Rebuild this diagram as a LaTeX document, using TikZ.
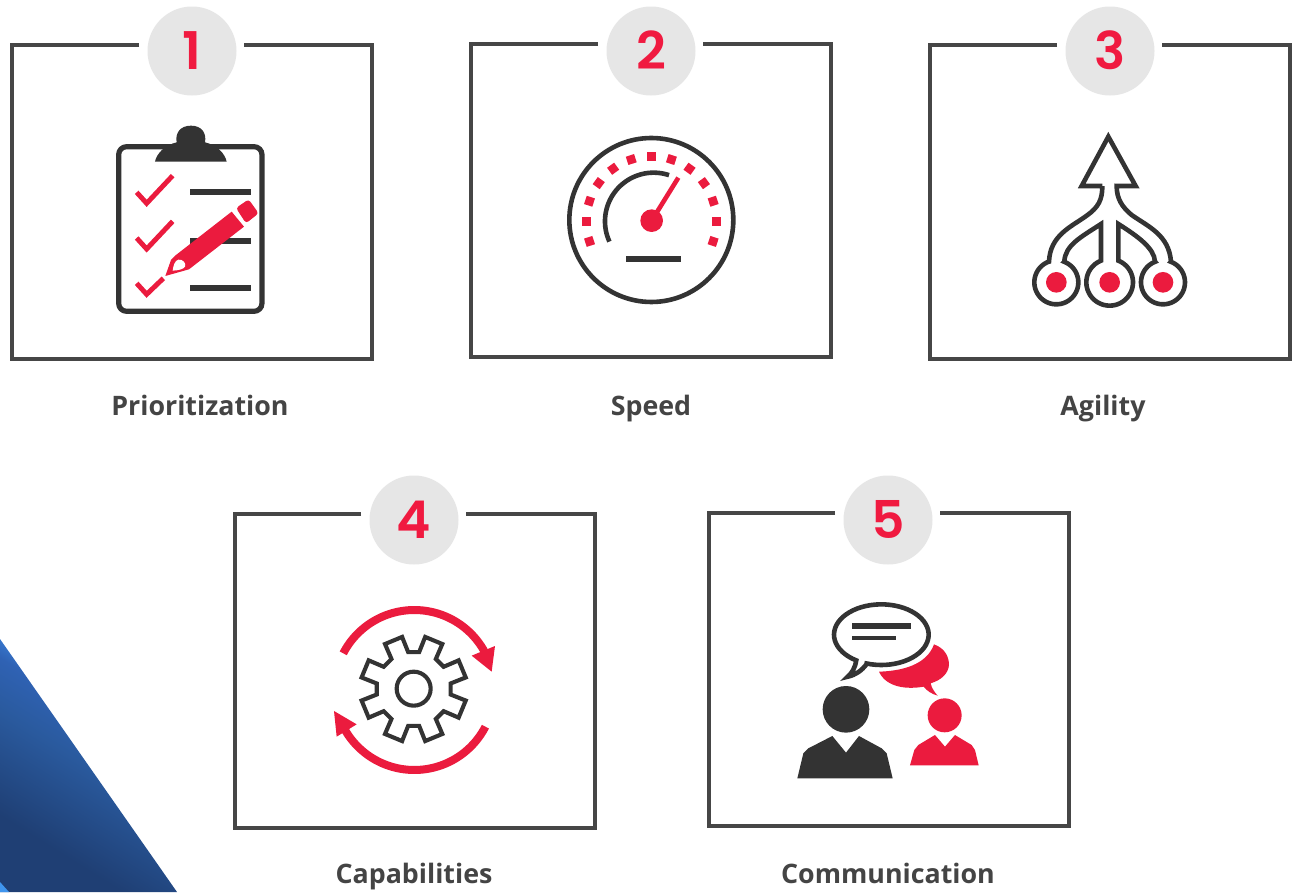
\documentclass[tikz,border=0pt]{standalone}
\usepackage{fontspec}
\setmainfont{Open Sans}
\newfontfamily\digitfont{Poppins SemiBold}
\definecolor{brandred}{HTML}{EB1B3E}
\definecolor{digitred}{HTML}{F01A40}
\definecolor{ink}{HTML}{333333}
\definecolor{framegrey}{HTML}{464646}
\definecolor{labelgrey}{HTML}{444444}
\definecolor{discgrey}{HTML}{E6E6E6}
\definecolor{bA}{HTML}{3F8FEA}
\definecolor{bB}{HTML}{2F62B4}
\definecolor{bC}{HTML}{2A5A9E}
\definecolor{bD}{HTML}{1F3F74}
\definecolor{bE}{HTML}{3F95EE}
\pgfdeclareverticalshading{blueband}{100bp}{color(0bp)=(bD); color(30bp)=(bD); color(50bp)=(bC); color(60bp)=(bB); color(68bp)=(bA); color(100bp)=(bA)}
\tikzset{
  frameline/.style={draw=framegrey,line width=4pt,line join=miter},
  disc/.style={circle,fill=discgrey,minimum size=89pt,inner sep=0pt},
  digit/.style={text=digitred,font=\digitfont\fontsize{52}{52}\selectfont,anchor=base,inner sep=0pt},
  caption/.style={text=labelgrey,font=\bfseries\fontsize{26.8}{30}\selectfont,anchor=base,inner sep=0pt},
  inkline/.style={draw=ink,line width=4.6pt},
  redline/.style={draw=brandred,line width=4.6pt},
  arcplot/.style={samples=60}
}
% panel: name, left, top, right, bottom, disc x, disc y, digit
\newcommand{\panel}[8]{%
  \coordinate (#1gl) at ({#6-53},#3);
  \coordinate (#1gr) at ({#6+52},#3);
  \draw[frameline] (#1gl) -- (#2,#3) -- (#2,#5) -- (#4,#5) -- (#4,#3) -- (#1gr);
  \node[disc] (#1disc) at (#6,#7) {};
  \node[digit] (#1num) at (#6,{#7+18}) {#8};
}
\begin{document}
\begin{tikzpicture}[x=1pt,y=-1pt]
\useasboundingbox (0,0) rectangle (1301,892);
\fill[white] (0,0) rectangle (1301,892);
% corner
\shade[shading=blueband,shading angle=-32] (0,639) -- (177,892) -- (0,892) -- cycle;
\fill[bE] (0,882) -- (9,892) -- (0,892) -- cycle;
% panels
\panel{a}{12}{45}{372}{359}{192}{51}{1}
\panel{b}{471}{44}{831}{357}{651}{51}{2}
\panel{c}{930}{45}{1290}{359}{1110}{51}{3}
\panel{d}{235}{514}{595}{828}{414}{520}{4}
\panel{e}{709}{513}{1069}{826}{888}{520}{5}
\node[caption] (al) at (200,415.5) {Prioritization};
\node[caption] (bl) at (651,415.5) {Speed};
\node[caption] (cl) at (1103,415.5) {Agility};
\node[caption] (dl) at (414,883.5) {Capabilities};
\node[caption] (el) at (888,883.5) {Communication};
% icon 1
\begin{scope}[shift={(90,110)},x=0.3333pt,y=-0.3333pt]
  \draw[ink,line width=5.2pt,rounded corners=8pt] (86,110) rectangle (516,604);
  \fill[ink] (195,155) .. controls (200,130) and (225,105) .. (260,97) .. controls (255,70) and (270,47) .. (303,47) .. controls (336,47) and (350,70) .. (345,97) .. controls (380,105) and (405,130) .. (410,155) -- cycle;
  \foreach \yy in {246,393,534} \fill[ink] (300,\yy-9) rectangle (483,\yy+9);
  \draw[redline,line width=4.9pt,line join=miter] (140,247) -- (170,280) -- (248,197);
  \draw[redline,line width=4.9pt,line join=miter] (140,384) -- (170,417) -- (248,334);
  \draw[redline,line width=4.9pt,line join=miter] (140,520) -- (170,553) -- (220,505);
  \fill[brandred] (425,305) -- (462,350) -- (297,478) -- (226,498) -- (243,450) -- (258,435) -- cycle;
  \fill[white] (248,482) .. controls (250,465) and (255,452) .. (265,449) .. controls (278,447) and (290,460) .. (285,470) .. controls (280,478) and (265,481) .. (248,482) -- cycle;
  \fill[brandred,rounded corners=3pt] (438,294) -- (476,268) -- (506,310) -- (468,340) -- cycle;
\end{scope}
% icon 2
\begin{scope}[shift={(550,120)},x=0.3333pt,y=-0.3333pt]
  \draw[inkline] (304,300) circle[radius=246];
  \foreach \a in {-18,0,18,36,54,72,90,108,126,144,162,180,198}
    \draw[draw=brandred,line width=8.7pt] ({304+182*cos(\a)},{304-182*sin(\a)}) -- ({304+208*cos(\a)},{304-208*sin(\a)});
  \draw[inkline] plot[arcplot,domain=155.4:288.4] ({311+146*cos(\x)},{304+146*sin(\x)});
  \draw[redline] (305,302) -- (385,173);
  \fill[brandred] (305,302) circle[radius=34];
  \fill[ink] (228,408) rectangle (393,426);
\end{scope}
% icon 3
\begin{scope}[shift={(1015,120)},x=0.3333pt,y=-0.3333pt]
  \draw[inkline,line join=miter] (262,198) -- (200,198) -- (280,50) -- (362,198) -- (305,198)
    .. controls (305,235) and (320,260) .. (350,285)
    .. controls (400,320) and (462,345) .. (468,425)
    -- plot[arcplot,domain=-69:249] ({444+66*cos(\x)},{487+66*sin(\x)})
    -- (420,425)
    .. controls (418,385) and (370,350) .. (310,312)
    -- (310,422)
    -- plot[arcplot,domain=-68:248] ({284+70*cos(\x)},{487+70*sin(\x)})
    -- (258,422) -- (258,312)
    .. controls (200,350) and (150,375) .. (148,425)
    -- plot[arcplot,domain=-69:249] ({124+66*cos(\x)},{487+66*sin(\x)})
    -- (102,425)
    .. controls (105,345) and (170,320) .. (215,287)
    .. controls (250,262) and (262,240) .. (262,198);
  \foreach \cx in {124,284,444} \fill[brandred] (\cx,487) circle[radius=31];
\end{scope}
% icon 4
\begin{scope}[shift={(320,590)},x=0.3333pt,y=-0.3333pt]
  \draw[inkline,line width=4.1pt,line join=miter]
    ({281+112*cos(22.5-14)},{297+112*sin(22.5-14)})
    \foreach \t in {22.5,67.5,...,337.5} {
      -- ({281+112*cos(\t-14)},{297+112*sin(\t-14)})
      -- ({281+160*cos(\t-10)},{297+160*sin(\t-10)})
      -- ({281+160*cos(\t+10)},{297+160*sin(\t+10)})
      -- ({281+112*cos(\t+14)},{297+112*sin(\t+14)})
    } -- cycle;
  \draw[inkline,line width=4.1pt] (281,296) circle[radius=51];
  \draw[redline,line width=8pt] plot[arcplot,domain=-152.7:-27] ({283+240*cos(\x)},{300+240*sin(\x)});
  \fill[brandred] (525,168) -- (515,245) -- (455,197) -- cycle;
  \draw[redline,line width=8pt] plot[arcplot,domain=27.3:153] ({283+240*cos(\x)},{300+240*sin(\x)});
  \fill[brandred] (42,363) -- (110,403) -- (50,440) -- cycle;
\end{scope}
% icon 5
\begin{scope}[shift={(785,590)},x=0.3333pt,y=-0.3333pt]
  \fill[brandred] (282,245) .. controls (350,243) and (425,225) .. (447,163)
    .. controls (480,175) and (492,200) .. (492,225)
    .. controls (490,250) and (470,270) .. (437,280)
    .. controls (440,295) and (450,308) .. (458,317)
    .. controls (440,312) and (425,302) .. (416,290)
    .. controls (370,298) and (305,295) .. (282,245) -- cycle;
  \draw[inkline,fill=white,line join=miter] plot[arcplot,domain=108:-238] ({289+142*cos(\x)},{134+91*sin(\x)})
    .. controls (210,235) and (200,250) .. (188,260)
    .. controls (212,255) and (230,242) .. (245,222) -- cycle;
  \fill[ink] (201,99) rectangle (378,117);
  \fill[ink] (201,137) rectangle (333,150);
  \fill[ink] (183,358) circle[radius=70];
  \fill[ink] (142,438) -- (183,488) -- (222,438) -- (290,475) -- (305,490) -- (323,565) -- (37,565) -- (55,490) -- (70,475) -- cycle;
  \fill[brandred] (479,376) circle[radius=51];
  \fill[brandred] (450,435) -- (480,470) -- (510,435) -- (560,465) -- (570,480) -- (581,526) -- (375,526) -- (388,480) -- (400,465) -- cycle;
\end{scope}
\end{tikzpicture}
\end{document}
